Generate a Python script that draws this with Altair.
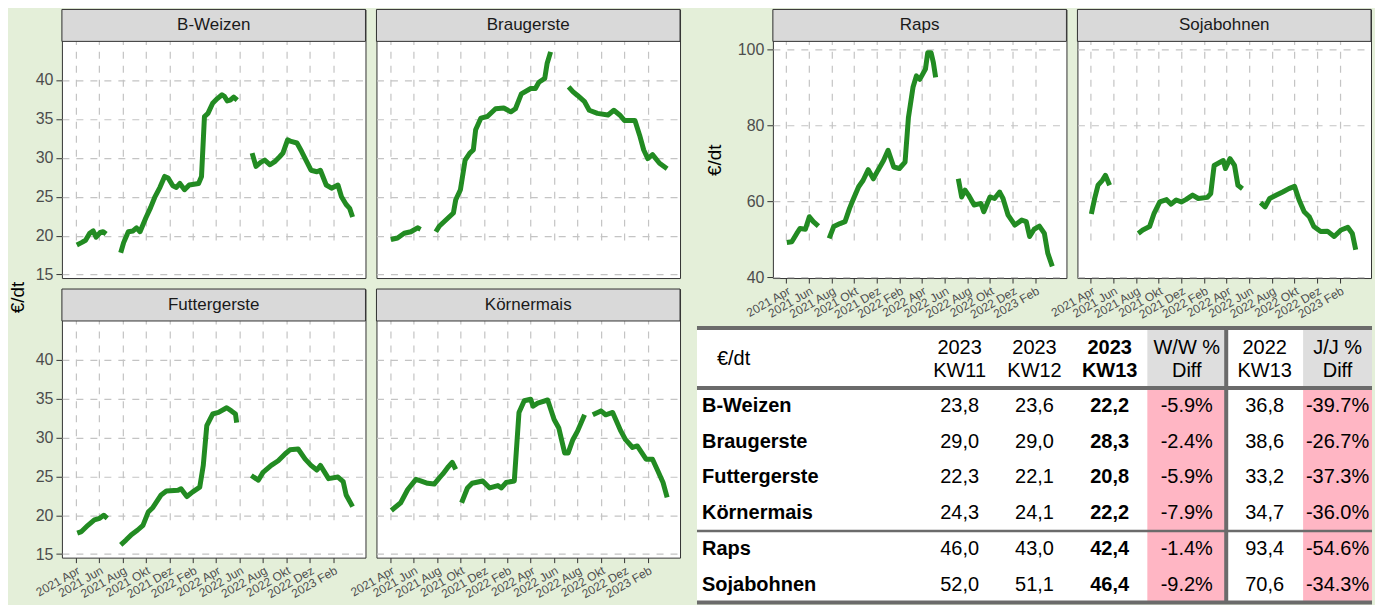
import json
import altair as alt
import pandas as pd

FONT = "Liberation Sans"
GREEN = "#228b22"
PAGE_BG = "#e4efd9"
GRID = "#c4c4c4"
STRIP_FILL = "#d9d9d9"
BORDER = "#333333"
TICK_TEXT = "#4d4d4d"

# x is "months since April 2021"
TICK_MONTHS = list(range(0, 24, 2))
TICK_LABELS = ["2021 Apr", "2021 Jun", "2021 Aug", "2021 Okt", "2021 Dez", "2022 Feb",
               "2022 Apr", "2022 Jun", "2022 Aug", "2022 Okt", "2022 Dez", "2023 Feb"]
X_DOMAIN = [-1.17, 24.75]

GRAIN_Y_DOMAIN = [14.55, 44.95]
GRAIN_Y_TICKS = [15, 20, 25, 30, 35, 40]
OIL_Y_DOMAIN = [39.74, 102.1]
OIL_Y_TICKS = [40, 60, 80, 100]

CROPS = ["B-Weizen", "Braugerste", "Futtergerste", "Körnermais", "Raps", "Sojabohnen"]
UNIT = "€/dt"

# --- weekly price series (None = gap between marketing seasons) ---
BW_T = [0.1, 0.5, 0.85, 1.2, 1.5, 1.75, 2.1, 2.35, 2.6, None,
        3.85, 4.1, 4.5, 4.9, 5.2, 5.5, 6.0, 6.4, 6.75, 7.2, 7.6, 7.9, 8.3, 8.6, 8.9, 9.3, 9.7,
        10.1, 10.5, 10.75, 11.0, 11.3, 11.7, 12.1, 12.5, 12.7, 12.95, 13.2, 13.5, 13.8, None,
        15.07, 15.4, 15.8, 16.15, 16.6, 17.0, 17.4, 17.7, 18.1, 18.4, 18.9, 19.3, 19.6, 20.1,
        20.6, 20.9, 21.4, 21.85, 22.4, 22.7, 23.1, 23.4, 23.65]
BW_V = [18.8, 19.1, 19.4, 20.3, 20.6, 19.8, 20.4, 20.5, 20.2, None,
        17.8, 19.1, 20.5, 20.6, 21.0, 20.5, 22.3, 23.6, 24.9, 26.2, 27.6, 27.4, 26.4, 26.2, 26.7, 25.9, 26.5,
        26.6, 26.7, 27.6, 35.3, 35.7, 37.0, 37.6, 38.1, 37.9, 37.3, 37.4, 37.8, 37.4, None,
        30.6, 28.9, 29.4, 29.7, 29.1, 29.5, 30.1, 30.6, 32.3, 32.1, 31.9, 30.8, 29.9, 28.4,
        28.2, 28.4, 26.5, 26.1, 26.5, 25.0, 24.0, 23.5, 22.4]

BG_T = [0.06, 0.63, 1.2, 1.77, 2.34, 2.6, None,
        3.9, 4.19, 4.76, 5.4, 5.6, 6.0, 6.4, 6.8, 7.1, 7.3, 7.75, 8.3, 9.0, 9.7, 10.3, 10.7,
        11.2, 12.0, 12.4, 12.7, 13.2, 13.4, 13.7, None,
        15.24, 15.6, 16.0, 16.6, 17.0, 17.7, 18.6, 19.1, 19.6, 20.0, 20.9, 21.3, 21.65, 22.0,
        22.4, 23.0, 23.65]
BG_V = [19.5, 19.7, 20.3, 20.5, 21.0, 20.8, None,
        20.5, 21.2, 22.0, 22.9, 24.6, 25.9, 29.7, 30.6, 31.0, 33.6, 35.1, 35.3, 36.3, 36.4, 35.9, 36.3,
        38.2, 38.9, 38.9, 39.7, 40.2, 42.1, 43.6, None,
        39.1, 38.5, 38.0, 37.2, 36.1, 35.7, 35.5, 36.1, 35.5, 34.8, 34.8, 32.9, 31.0, 29.9,
        30.4, 29.3, 28.6]

FG_T = [0.14, 0.5, 1.05, 1.6, 2.05, 2.4, 2.7, None,
        3.85, 4.3, 4.76, 5.3, 5.75, 6.2, 6.6, 7.3, 7.75, 8.75, 9.0, 9.5, 10.0, 10.6, 10.9,
        11.2, 11.7, 12.2, 12.9, 13.3, 13.65, 13.75, None,
        15.0, 15.6, 16.0, 16.7, 17.3, 17.9, 18.3, 19.0, 19.6, 20.1, 20.6, 20.9, 21.6, 22.4,
        22.85, 23.1, 23.65]
FG_V = [17.7, 17.9, 18.7, 19.4, 19.6, 20.0, 19.6, None,
        16.2, 16.8, 17.5, 18.1, 18.7, 20.4, 21.0, 22.6, 23.1, 23.2, 23.4, 22.4, 23.0, 23.6, 26.4,
        31.5, 33.0, 33.2, 33.8, 33.4, 33.0, 31.9, None,
        25.1, 24.5, 25.5, 26.4, 27.0, 27.9, 28.4, 28.5, 27.2, 26.4, 25.8, 26.4, 24.7, 24.9,
        24.3, 22.6, 21.1]

KM_T = [0.1, 0.9, 1.5, 2.2, 2.6, 3.2, 3.76, 4.2, 4.5, 4.9, 5.3, 5.6, None,
        6.1, 6.6, 7.0, 7.9, 8.5, 9.2, 9.5, 9.9, 10.6, 11.0, 11.45, 12.0, 12.2, 12.6, 13.45,
        14.0, 14.4, 14.9, 15.2, 15.6, 16.0, 16.6, None,
        17.3, 18.0, 18.4, 19.0, 19.7, 20.1, 20.7, 21.1, 21.85, 22.4, 22.85, 23.3, 23.65]
KM_V = [20.6, 21.6, 23.3, 24.6, 24.4, 24.1, 24.0, 24.8, 25.3, 26.1, 26.8, 25.9, None,
        21.6, 23.5, 24.1, 24.4, 23.5, 23.8, 23.5, 24.2, 24.4, 33.2, 34.7, 34.9, 34.0, 34.4, 34.8,
        32.3, 31.2, 28.0, 28.0, 29.7, 30.8, 32.9, None,
        32.9, 33.4, 32.9, 33.2, 30.8, 29.7, 28.7, 28.9, 27.2, 27.2, 25.7, 24.2, 22.3]

RA_T = [0.06, 0.5, 0.94, 1.23, 1.7, 2.05, 2.4, 2.85, None,
        3.8, 4.2, 4.76, 5.2, 5.6, 5.9, 6.4, 6.8, 7.25, 7.7, 8.1, 8.6, 9.0, 9.5, 10.0, 10.5,
        10.8, 11.2, 11.5, 11.8, 12.3, 12.5, 12.8, 13.0, 13.2, None,
        15.2, 15.5, 15.8, 16.1, 16.6, 17.2, 17.45, 18.0, 18.4, 18.85, 19.15, 19.6, 20.2, 20.8,
        21.2, 21.5, 21.9, 22.36, 22.8, 23.1, 23.5]
RA_V = [49.1, 49.3, 51.5, 52.8, 52.6, 55.9, 54.6, 53.4, None,
        50.2, 53.3, 54.1, 54.6, 58.1, 60.3, 63.8, 65.5, 68.3, 65.9, 68.1, 70.7, 73.4, 69.0, 68.6, 70.3,
        82.1, 90.0, 93.0, 92.1, 94.8, 99.1, 99.1, 96.5, 92.6, None,
        65.9, 61.1, 62.9, 61.6, 59.0, 59.4, 57.2, 61.1, 60.7, 62.4, 60.7, 56.3, 53.7, 55.0,
        54.6, 50.7, 52.6, 53.4, 51.5, 46.3, 42.8]

SO_T = [0.06, 0.35, 0.65, 1.03, 1.3, 1.67, None,
        4.2, 4.6, 5.2, 5.6, 6.1, 6.7, 7.1, 7.55, 8.0, 8.4, 9.0, 9.5, 10.3, 10.6, 10.9, 11.7,
        11.9, 12.3, 12.7, 13.0, 13.4, None,
        15.0, 15.4, 15.8, 16.4, 16.95, 17.5, 18.0, 18.4, 18.85, 19.3, 19.7, 20.3, 20.9, 21.5,
        22.1, 22.7, 23.1, 23.4]
SO_V = [56.6, 60.7, 64.2, 65.5, 66.8, 64.2, None,
        51.5, 52.4, 53.3, 56.8, 59.8, 60.4, 59.2, 60.3, 59.8, 60.4, 61.6, 60.7, 61.0, 62.0, 69.4, 70.7,
        68.6, 71.2, 69.4, 64.2, 63.3, None,
        59.6, 58.5, 60.7, 61.6, 62.4, 63.3, 63.9, 60.3, 57.2, 55.9, 53.3, 52.0, 52.1, 50.7,
        52.4, 53.1, 51.5, 47.2]

# --- table values ---
HEADER_TOP = ["2023", "2023", "2023", "W/W %", "2022", "J/J %"]
HEADER_BOTTOM = ["KW11", "KW12", "KW13", "Diff", "KW13", "Diff"]
KW11 = [23.8, 29.0, 22.3, 24.3, 46.0, 52.0]
KW12 = [23.6, 29.0, 22.1, 24.1, 43.0, 51.1]
KW13 = [22.2, 28.3, 20.8, 22.2, 42.4, 46.4]
WW_DIFF = [-5.9, -2.4, -5.9, -7.9, -1.4, -9.2]
PREV_KW13 = [36.8, 38.6, 33.2, 34.7, 93.4, 70.6]
JJ_DIFF = [-39.7, -26.7, -37.3, -36.0, -54.6, -34.3]

LABEL_EXPR = json.dumps(TICK_LABELS) + "[round(datum.value / 2)]"

# --- layout constants (pixels) ---
STRIP_H = 32
PH = 237
PW = 304
RW = 294
GAP = 11
SPACER_W = 71
TABLE_CELL_W = SPACER_W
# table drawn relative to its grid cell (column 3, row 2)
X_EDGES = [6, 231.5, 306.5, 381.5, 457, 536, 613, 682]
Y_STOPS = [0, 1, 7]
Y_PIX = [39, 99, 314]


def series_frame(ts, vs):
    rows, seg = [], 0
    for t, v in zip(ts, vs):
        if t is None:
            seg += 1
            continue
        rows.append({"t": t, "v": v, "seg": seg})
    return pd.DataFrame(rows)


def x_axis(show):
    if show:
        return alt.Axis(values=TICK_MONTHS, labelExpr=LABEL_EXPR, labelAngle=330,
                        labelAlign="right", labelBaseline="top", labelFont=FONT,
                        labelFontSize=12, labelColor=TICK_TEXT, labelOverlap=False,
                        labelFlush=False, labelPadding=2, ticks=True, tickSize=5,
                        tickColor=BORDER, domain=False, grid=True, gridColor=GRID,
                        gridDash=[7, 7], gridWidth=1.2, title=None)
    return alt.Axis(values=TICK_MONTHS, labels=False, ticks=False, domain=False,
                    grid=True, gridColor=GRID, gridDash=[7, 7], gridWidth=1.2, title=None)


def y_axis(ticks, show, title_xy=None):
    kw = dict(values=ticks, labels=show, ticks=show, labelFont=FONT, labelFontSize=16,
              labelColor=TICK_TEXT, labelPadding=3, tickSize=6, tickColor=BORDER,
              domain=False, grid=True, gridColor=GRID, gridDash=[7, 7], gridWidth=1.2)
    if title_xy is None:
        return alt.Axis(title=None, **kw)
    return alt.Axis(title=UNIT, titleX=title_xy[0], titleY=title_xy[1], titleAngle=270,
                    titleFont=FONT, titleFontSize=19, titleFontWeight="normal",
                    titleColor="black", titleAlign="center", titleBaseline="middle", **kw)


def panel(name, ts, vs, ydom, yticks, show_y, show_x, w, title_xy=None):
    total_h = STRIP_H + PH
    line = alt.Chart(series_frame(ts, vs)).mark_line(
        color=GREEN, strokeWidth=5, strokeJoin="round", strokeCap="butt", clip=True
    ).encode(
        x=alt.X("t:Q", scale=alt.Scale(domain=X_DOMAIN, nice=False, zero=False), axis=x_axis(show_x)),
        y=alt.Y("v:Q", scale=alt.Scale(domain=ydom, range=[total_h, STRIP_H], nice=False, zero=False),
                axis=y_axis(yticks, show_y, title_xy)),
        detail="seg:N",
    )
    strip_df = pd.DataFrame({"crop": [name]})
    strip_box = alt.Chart(strip_df).mark_rect(fill=STRIP_FILL, stroke=BORDER, strokeWidth=1).encode(
        x=alt.value(0), x2=alt.value(w), y=alt.value(0), y2=alt.value(STRIP_H))
    strip_txt = alt.Chart(strip_df).mark_text(font=FONT, fontSize=17, color="#1a1a1a").encode(
        x=alt.value(w / 2), y=alt.value(STRIP_H / 2), text="crop:N")
    return alt.layer(line, strip_box, strip_txt).properties(
        width=w, height=total_h,
        view=alt.ViewBackground(fill="white", stroke=BORDER, strokeWidth=1))


def spacer(w, h):
    return alt.Chart(pd.DataFrame({"s": [""]})).mark_text().encode(text="s:N").properties(
        width=w, height=h)


def num(v):
    return f"{v:.1f}".replace(".", ",")


def pct(v):
    return f"{v:.1f}%"


def table_chart():
    xsc = alt.Scale(domain=list(range(len(X_EDGES))), range=X_EDGES, nice=False, zero=False)
    ysc = alt.Scale(domain=Y_STOPS, range=Y_PIX, nice=False, zero=False)
    n = len(CROPS)
    last = len(X_EDGES) - 1
    diff_cols = [HEADER_TOP.index("W/W %") + 1, HEADER_TOP.index("J/J %") + 1]

    cells = [{"c0": 0, "c1": last, "r0": 0, "r1": 1 + n, "kind": "bg"}]
    for k in diff_cols:
        cells.append({"c0": k, "c1": k + 1, "r0": 0, "r1": 1, "kind": "head"})
        cells.append({"c0": k, "c1": k + 1, "r0": 1, "r1": 1 + n, "kind": "diff"})
    cell_layer = alt.Chart(pd.DataFrame(cells)).mark_rect().encode(
        x=alt.X("c0:Q", scale=xsc, axis=None), x2="c1:Q",
        y=alt.Y("r0:Q", scale=ysc, axis=None), y2="r1:Q",
        color=alt.Color("kind:N", scale=alt.Scale(domain=["bg", "head", "diff"],
                                                  range=["#ffffff", "#dedede", "#ffb6c4"]),
                        legend=None),
    )

    hl = pd.DataFrame({"r": [0, 1, 1 + 4, 1 + n], "w": [4, 4, 2.5, 4],
                       "c0": [0] * 4, "c1": [last] * 4})
    hline_layer = alt.Chart(hl).mark_rule(color="#6b6b6b", strokeCap="butt").encode(
        x=alt.X("c0:Q", scale=xsc, axis=None), x2="c1:Q",
        y=alt.Y("r:Q", scale=ysc, axis=None),
        strokeWidth=alt.StrokeWidth("w:Q", scale=None),
    )
    vl = pd.DataFrame({"c": [diff_cols[0] + 1], "r0": [0], "r1": [1 + n]})
    vline_layer = alt.Chart(vl).mark_rule(color="#6b6b6b", strokeWidth=4, strokeCap="butt").encode(
        x=alt.X("c:Q", scale=xsc, axis=None),
        y=alt.Y("r0:Q", scale=ysc, axis=None), y2="r1:Q",
    )

    columns = [KW11, KW12, KW13, WW_DIFF, PREV_KW13, JJ_DIFF]
    fmts = [num, num, num, pct, num, pct]
    normal, bold = [], []
    for k, (h1, h2, vals, f) in enumerate(zip(HEADER_TOP, HEADER_BOTTOM, columns, fmts), start=1):
        target = bold if (h1, h2) == ("2023", "KW13") else normal
        target.append({"c": k + 0.5, "r": 0.34, "s": h1})
        target.append({"c": k + 0.5, "r": 0.72, "s": h2})
        for i, v in enumerate(vals):
            target.append({"c": k + 0.5, "r": 1.5 + i, "s": f(v)})

    def text_layer(rows, weight, align, dx):
        return alt.Chart(pd.DataFrame(rows)).mark_text(
            font=FONT, fontSize=20, color="black", fontWeight=weight, align=align, dx=dx
        ).encode(
            x=alt.X("c:Q", scale=xsc, axis=None),
            y=alt.Y("r:Q", scale=ysc, axis=None),
            text="s:N",
        )

    labels = [{"c": 0, "r": 1.5 + i, "s": c} for i, c in enumerate(CROPS)]
    unit = [{"c": 0, "r": 0.52, "s": UNIT}]

    return alt.layer(
        cell_layer,
        text_layer(normal, "normal", "center", 0),
        text_layer(bold, "bold", "center", 0),
        text_layer(labels, "bold", "left", 5),
        text_layer(unit, "normal", "left", 20),
        hline_layer,
        vline_layer,
    ).properties(width=TABLE_CELL_W, height=STRIP_H + PH)


bw = panel("B-Weizen", BW_T, BW_V, GRAIN_Y_DOMAIN, GRAIN_Y_TICKS, True, False, PW)
bg = panel("Braugerste", BG_T, BG_V, GRAIN_Y_DOMAIN, GRAIN_Y_TICKS, False, False, PW)
fg = panel("Futtergerste", FG_T, FG_V, GRAIN_Y_DOMAIN, GRAIN_Y_TICKS, True, True, PW,
           title_xy=(-44.5, 8))
km = panel("Körnermais", KM_T, KM_V, GRAIN_Y_DOMAIN, GRAIN_Y_TICKS, False, True, PW)
ra = panel("Raps", RA_T, RA_V, OIL_Y_DOMAIN, OIL_Y_TICKS, True, True, RW,
           title_xy=(-58.5, STRIP_H + PH / 2))
so = panel("Sojabohnen", SO_T, SO_V, OIL_Y_DOMAIN, OIL_Y_TICKS, False, True, RW)

chart = alt.concat(
    bw, bg, spacer(SPACER_W, STRIP_H + PH), ra, so,
    fg, km, table_chart(),
    columns=5, spacing=GAP, bounds="flush", align="each",
).properties(
    background=PAGE_BG, padding=0
).configure_view(stroke="transparent")

chart.save("out.html", embed_options={"renderer": "svg", "actions": False})
